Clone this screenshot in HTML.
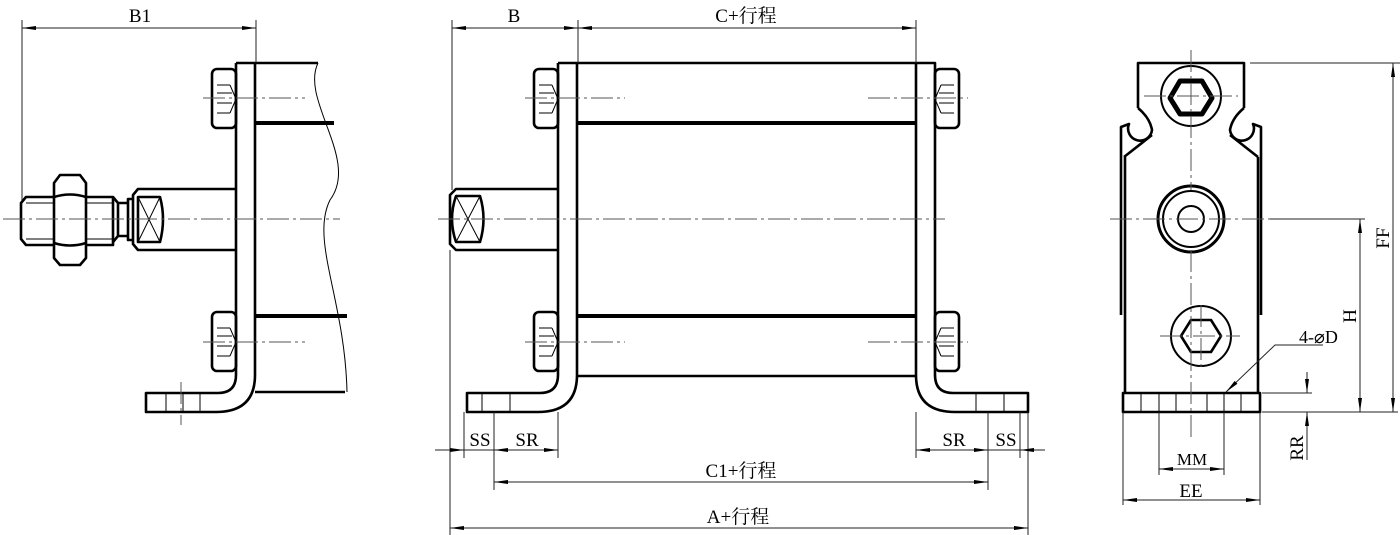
<!DOCTYPE html>
<html><head><meta charset="utf-8"><style>
html,body{margin:0;padding:0;background:#fff}
svg{display:block}
text{font-family:"Liberation Serif","Noto Serif CJK SC","Noto Sans CJK SC",serif;font-size:19px;fill:#000}
</style></head><body>
<svg width="1400" height="535" viewBox="0 0 1400 535" xmlns="http://www.w3.org/2000/svg">
<defs>
<marker id="a" viewBox="0 0 14 4" refX="14" refY="2" markerWidth="14" markerHeight="4" markerUnits="userSpaceOnUse" orient="auto-start-reverse"><path d="M0,0 L14,2 L0,4z" fill="#000"/></marker>
</defs>
<g fill="none" stroke="#000">
<!-- ===== LEFT VIEW ===== -->
<g stroke-width="2.6" stroke-linejoin="round">
<path d="M236,63 H318"/>
<path d="M236,63 V375 Q236,393 218,393 H146 V412 H216 Q255,412 255,375 V63"/>
<path d="M255,123 H334 M255,316 H347" stroke-width="4"/>
<path d="M255,392 H345"/>
<rect x="212" y="69" width="24" height="59" rx="5"/>
<rect x="212" y="312" width="24" height="59" rx="5"/>
<path d="M236,189 H138 L133,195 V244 L138,250 H236"/>
<path d="M133,199 H128 V240 H133"/>
<path d="M113,197 L118,203 H128 M113,242 L118,236 H128 M118,203 V236"/>
<path d="M113,197 H26 L21,203 V239 L26,245 H113 Z"/>
<path d="M60,175 H80 L86,183 V258 L80,265 H60 L54,258 V183Z" fill="#fff"/>
<path d="M54,197 Q70,192 86,197 M54,243 Q70,248 86,243"/>
<path d="M138,197 H160 Q166,219 160,242 H138Z"/>
</g>
<g stroke-width="1">
<path d="M138,197 L160,242 M160,197 L138,242"/>
<path d="M318,63 C300,100 360,160 330,200 C310,240 345,300 347,392"/>
<path d="M26,203 H54 M26,239 H54 M86,203 H113 M86,239 H113"/>
<path d="M217,85 H230 M217,93 H232 M217,103 H232 M217,113 H230 M230,85 L236,99 L230,113"/>
<path d="M217,328 H230 M217,336 H232 M217,346 H232 M217,356 H230 M230,328 L236,342 L230,356"/>
<path d="M166,393 V412 M183,393 V412 M200,393 V412"/>
</g>
<g stroke-width="1" stroke="#555" stroke-dasharray="22,4,3,4">
<path d="M3,219 H340 M203,98 H305 M203,342 H305 M181,382 V425"/>
</g>
<!-- ===== MIDDLE VIEW ===== -->
<g stroke-width="2.6" stroke-linejoin="round">
<path d="M558,63 H935 V375 Q935,393 953,393 H1028 V412 H955 Q916,412 916,375 V63"/>
<path d="M558,63 V375 Q558,393 540,393 H467 V412 H538 Q577,412 577,375 V63"/>
<path d="M577,123 H916 M577,316 H916" stroke-width="4"/>
<path d="M577,376 H916"/>
<rect x="534" y="69" width="24" height="59" rx="5"/>
<rect x="534" y="312" width="24" height="59" rx="5"/>
<rect x="935" y="69" width="24" height="59" rx="5"/>
<rect x="935" y="312" width="24" height="59" rx="5"/>
<path d="M558,189 H456 L450,195 V244 L456,250 H558"/>
<path d="M456,196 H480 Q487,219 480,242 H456 Q448,219 456,196Z"/>
</g>
<g stroke-width="1">
<path d="M456,196 L480,242 M480,196 L456,242"/>
<path d="M539,85 H552 M539,93 H554 M539,103 H554 M539,113 H552 M552,85 L558,99 L552,113"/>
<path d="M539,328 H552 M539,336 H554 M539,346 H554 M539,356 H552 M552,328 L558,342 L552,356"/>
<path d="M954,85 H941 M954,93 H939 M954,103 H939 M954,113 H941 M941,85 L935,99 L941,113"/>
<path d="M954,328 H941 M954,336 H939 M954,346 H939 M954,356 H941 M941,328 L935,342 L941,356"/>
<path d="M482,393 V412 M510,393 V412 M976,393 V412 M1004,393 V412"/>
</g>
<g stroke-width="1" stroke="#555" stroke-dasharray="22,4,3,4">
<path d="M438,219 H945 M525,98 H625 M525,342 H625 M868,98 H968 M868,342 H968"/>
</g>
<!-- ===== RIGHT VIEW ===== -->
<g stroke-width="2.6" stroke-linejoin="round">
<path d="M1138,108 V63 H1244 V108"/>
<path d="M1138,108 Q1150,118 1152,130 A12,12 0 1,1 1129,124 L1121,127 V315 M1124,157 L1152,135"/>
<path d="M1244,108 Q1232,118 1230,130 A12,12 0 1,0 1253,124 L1261,127 V315 M1258,157 L1230,135"/>
<path d="M1125,157 V393 M1258,157 V393"/>
<rect x="1123" y="393" width="137" height="19"/>
<circle cx="1191" cy="96" r="30" stroke-width="2"/>
<path d="M1180,81 H1202 L1212,98 L1202,114 H1180 L1170,98Z" stroke-width="5"/>
<circle cx="1191" cy="219" r="33" stroke-width="3"/>
<circle cx="1191" cy="219" r="28" stroke-width="2"/>
<circle cx="1191" cy="219" r="13" stroke-width="2"/>
<circle cx="1201" cy="336" r="30" stroke-width="2"/>
<path d="M1191,320 H1211 L1221,336 L1211,352 H1191 L1181,336Z" stroke-width="2.6"/>
</g>
<g stroke-width="1">
<path d="M1141,393 V412 M1159,393 V412 M1176,393 V412 M1207,393 V412 M1224,393 V412 M1241,393 V412"/>
</g>
<g stroke-width="1" stroke="#555" stroke-dasharray="22,4,3,4">
<path d="M1191,50 V190 M1191,250 V440 M1110,219 H1270 M1144,96 H1238 M1160,336 H1240 M1201,305 V370"/>
</g>
<!-- ===== DIMENSIONS ===== -->
<g stroke-width="1" stroke="#222">
<path d="M22,20 V200 M256,20 V63 M452,20 V190 M578,20 V63 M916,20 V63"/>
<path d="M22,28 H256" marker-start="url(#a)" marker-end="url(#a)"/>
<path d="M452,28 H578" marker-start="url(#a)" marker-end="url(#a)"/>
<path d="M578,28 H916" marker-start="url(#a)" marker-end="url(#a)"/>
<path d="M450,250 V535 M1028,412 V535 M464,412 V458 M494,412 V490 M558,412 V458 M916,412 V458 M988,412 V490 M1020,412 V458"/>
<path d="M435,450 H464" marker-end="url(#a)"/>
<path d="M494,450 H558" marker-start="url(#a)" marker-end="url(#a)"/>
<path d="M464,450 H494"/>
<path d="M916,450 H988" marker-start="url(#a)" marker-end="url(#a)"/>
<path d="M988,450 H1020"/>
<path d="M1045,450 H1020" marker-end="url(#a)"/>
<path d="M494,482 H988" marker-start="url(#a)" marker-end="url(#a)"/>
<path d="M450,528 H1028" marker-start="url(#a)" marker-end="url(#a)"/>
<path d="M1123,412 V505 M1260,412 V505 M1159,412 V475 M1224,412 V475"/>
<path d="M1159,469 H1224" marker-start="url(#a)" marker-end="url(#a)"/>
<path d="M1123,500 H1260" marker-start="url(#a)" marker-end="url(#a)"/>
<path d="M1250,63 H1400 M1270,219 H1365 M1262,412 H1398 M1262,393 H1312"/>
<path d="M1360,219 V412" marker-start="url(#a)" marker-end="url(#a)"/>
<path d="M1393,63 V412" marker-start="url(#a)" marker-end="url(#a)"/>
<path d="M1307,372 V393" marker-end="url(#a)"/>
<path d="M1307,460 V412" marker-end="url(#a)"/>
<path d="M1323,345 H1275 L1226,392" marker-end="url(#a)"/>
</g>
</g>
<g>
<text x="140" y="22" text-anchor="middle">B1</text>
<text x="514" y="22" text-anchor="middle">B</text>
<text x="746" y="22" text-anchor="middle">C+行程</text>
<text x="480" y="446" text-anchor="middle">SS</text>
<text x="527" y="446" text-anchor="middle">SR</text>
<text x="954" y="446" text-anchor="middle">SR</text>
<text x="1006" y="446" text-anchor="middle">SS</text>
<text x="741" y="477" text-anchor="middle">C1+行程</text>
<text x="738" y="523" text-anchor="middle">A+行程</text>
<text x="1192" y="465" text-anchor="middle" style="font-size:17px">MM</text>
<text x="1191" y="497" text-anchor="middle">EE</text>
<text x="1299" y="343" style="font-size:18px">4-⌀D</text>
<text transform="translate(1356,316) rotate(-90)" text-anchor="middle">H</text>
<text transform="translate(1389,238) rotate(-90)" text-anchor="middle">FF</text>
<text transform="translate(1303,448) rotate(-90)" text-anchor="middle">RR</text>
</g>
</svg>
</body></html>
